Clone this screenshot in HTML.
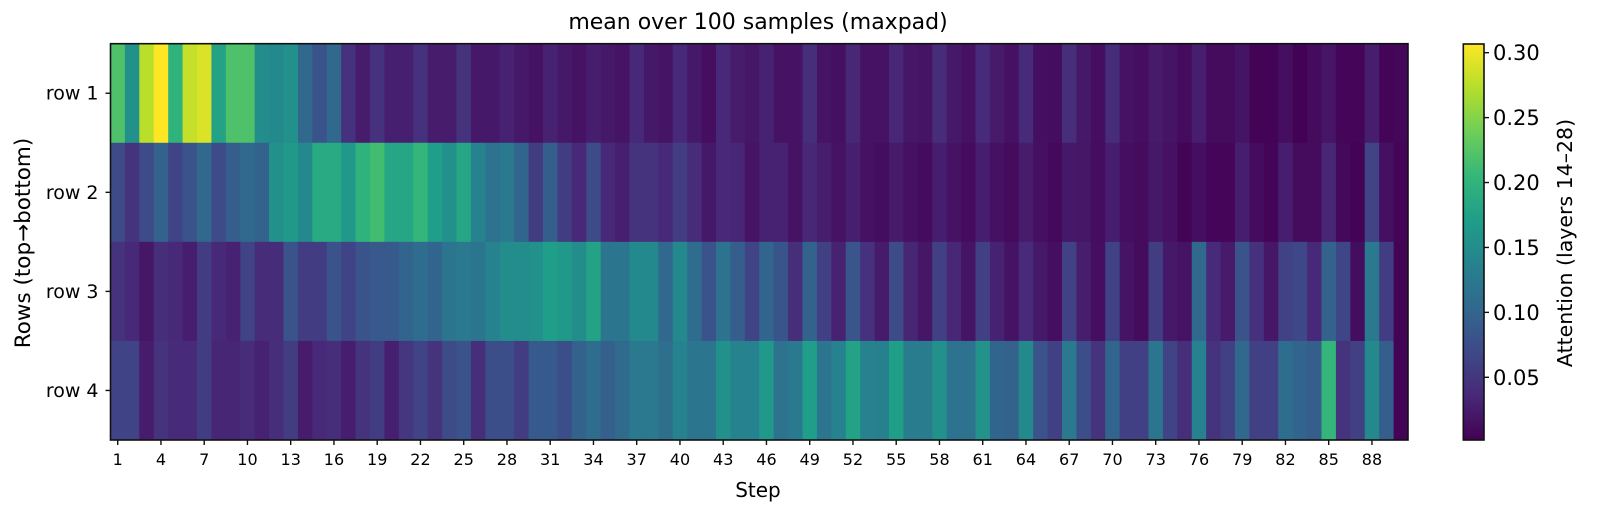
<!DOCTYPE html>
<html><head><meta charset="utf-8"><style>
html,body{margin:0;padding:0;background:#fff;}
svg text{font-family:"DejaVu Sans","Liberation Sans",sans-serif;fill:#000;}
</style></head><body>
<svg id="chart" width="1600" height="512" viewBox="0 0 1600 512" xmlns="http://www.w3.org/2000/svg">
<defs>
<linearGradient id="vir" x1="0" y1="1" x2="0" y2="0">
<stop offset="0" stop-color="#440154"/><stop offset="0.111" stop-color="#482878"/><stop offset="0.222" stop-color="#3e4989"/><stop offset="0.333" stop-color="#31688e"/><stop offset="0.444" stop-color="#26828e"/><stop offset="0.556" stop-color="#1f9e89"/><stop offset="0.667" stop-color="#35b779"/><stop offset="0.778" stop-color="#6ece58"/><stop offset="0.889" stop-color="#b5de2b"/><stop offset="1" stop-color="#fde725"/>
</linearGradient>
</defs>
<g id="cells"></g>
<rect x="110.5" y="43.7" width="1297.5" height="396.3" fill="none" stroke="#111" stroke-width="1.6"/>
<g id="xticks"></g>
<g id="yticks"></g>
<text x="758" y="29" font-size="22" text-anchor="middle">mean over 100 samples (maxpad)</text>
<text x="758" y="497" font-size="20" text-anchor="middle">Step</text>
<text transform="translate(30,243) rotate(-90)" font-size="21.5" text-anchor="middle">Rows (top→bottom)</text>
<rect x="1463.3" y="44" width="20.7" height="396" fill="url(#vir)" stroke="#111" stroke-width="1.6"/>
<g id="cticks"></g>
<text transform="translate(1572,243) rotate(-90)" font-size="20.5" text-anchor="middle">Attention (layers 14–28)</text>
</svg>
<script>
const rowLabels = ["row 1","row 2","row 3","row 4"];
const xTickSteps = [1,4,7,10,13,16,19,22,25,28,31,34,37,40,43,46,49,52,55,58,61,64,67,70,73,76,79,82,85,88];
const cbTicks = [0.05,0.10,0.15,0.20,0.25,0.30];
const row1 = [0.22,0.155,0.275,0.307,0.198,0.28,0.29,0.177,0.22,0.22,0.15,0.146,0.155,0.104,0.08,0.104,0.045,0.025,0.045,0.028,0.028,0.045,0.025,0.025,0.047,0.022,0.022,0.03,0.022,0.017,0.03,0.022,0.017,0.027,0.022,0.018,0.037,0.022,0.018,0.037,0.022,0.013,0.037,0.025,0.02,0.03,0.017,0.017,0.042,0.018,0.015,0.035,0.017,0.017,0.035,0.02,0.018,0.04,0.022,0.016,0.039,0.023,0.016,0.039,0.014,0.012,0.042,0.022,0.013,0.04,0.017,0.013,0.023,0.018,0.01,0.027,0.01,0.01,0.018,0.004,0.004,0.013,0.003,0.01,0.019,0.006,0.006,0.026,0.005,0.007];
const row2 = [0.072,0.047,0.072,0.097,0.063,0.08,0.104,0.072,0.092,0.104,0.097,0.155,0.165,0.146,0.187,0.187,0.165,0.198,0.213,0.182,0.182,0.203,0.171,0.155,0.182,0.137,0.116,0.125,0.1,0.057,0.092,0.057,0.037,0.072,0.037,0.028,0.047,0.047,0.037,0.057,0.04,0.022,0.037,0.034,0.018,0.03,0.03,0.017,0.035,0.026,0.017,0.028,0.016,0.012,0.023,0.016,0.011,0.027,0.017,0.011,0.027,0.016,0.01,0.025,0.015,0.009,0.022,0.02,0.012,0.027,0.013,0.01,0.022,0.016,0.004,0.013,0.006,0.006,0.027,0.01,0.005,0.027,0.01,0.01,0.034,0.009,0.004,0.063,0.015,0.005];
const row3 = [0.047,0.037,0.02,0.042,0.037,0.027,0.057,0.037,0.03,0.063,0.04,0.04,0.08,0.057,0.057,0.08,0.063,0.08,0.087,0.087,0.1,0.11,0.1,0.12,0.125,0.12,0.137,0.15,0.15,0.155,0.171,0.165,0.15,0.177,0.12,0.12,0.146,0.146,0.104,0.146,0.11,0.08,0.116,0.092,0.063,0.1,0.082,0.042,0.097,0.06,0.03,0.083,0.045,0.024,0.072,0.034,0.02,0.06,0.035,0.018,0.06,0.03,0.017,0.039,0.022,0.013,0.062,0.026,0.013,0.062,0.018,0.011,0.057,0.022,0.017,0.104,0.039,0.023,0.08,0.045,0.02,0.062,0.068,0.037,0.097,0.066,0.012,0.125,0.057,0.004];
const row4 = [0.063,0.063,0.025,0.047,0.038,0.038,0.057,0.034,0.034,0.04,0.03,0.042,0.057,0.025,0.036,0.042,0.027,0.047,0.057,0.028,0.05,0.063,0.047,0.072,0.08,0.042,0.075,0.075,0.057,0.088,0.088,0.075,0.097,0.11,0.093,0.107,0.125,0.125,0.112,0.137,0.12,0.12,0.155,0.139,0.137,0.165,0.116,0.125,0.171,0.12,0.137,0.177,0.137,0.135,0.173,0.13,0.13,0.155,0.116,0.116,0.157,0.1,0.097,0.146,0.08,0.06,0.125,0.075,0.047,0.1,0.06,0.06,0.122,0.063,0.042,0.137,0.047,0.06,0.104,0.06,0.06,0.11,0.1,0.092,0.203,0.047,0.06,0.146,0.092,0.004];

const NS="http://www.w3.org/2000/svg";
const rows=[row1,row2,row3,row4];
const X0=110.5,X1=1408,Y0=43.7,Y1=440;
const nCols=row1.length, nRows=rows.length;
const cw=(X1-X0)/nCols, rh=(Y1-Y0)/nRows;
const VMIN=0.0017,VMAX=0.3067;
const CB_Y0=44,CB_Y1=440,CB_X=1484;
const stops=["#440154","#482878","#3e4989","#31688e","#26828e","#1f9e89","#35b779","#6ece58","#b5de2b","#fde725"];
function hx(h){return [1,3,5].map(i=>parseInt(h.substr(i,2),16));}
function viridis(v){let t=(v-VMIN)/(VMAX-VMIN);t=Math.max(0,Math.min(1,t));const p=t*(stops.length-1);const i=Math.min(stops.length-2,Math.floor(p));const f=p-i;const a=hx(stops[i]),b=hx(stops[i+1]);return "rgb("+a.map((c,k)=>Math.round(c+(b[k]-c)*f)).join(",")+")";}
function xScale(step){return X0+(step-0.5)*cw;}
function yScale(r){return Y0+(r+0.5)*rh;}
function cbScale(v){return CB_Y1-(v-VMIN)/(VMAX-VMIN)*(CB_Y1-CB_Y0);}
function mk(tag,attrs){const e=document.createElementNS(NS,tag);for(const k in attrs)e.setAttribute(k,attrs[k]);return e;}
const gc=document.getElementById("cells");
rows.forEach((row,r)=>{row.forEach((v,c)=>{
  const e=mk("rect",{x:(X0+c*cw).toFixed(2),y:(Y0+r*rh).toFixed(2),width:(cw+0.4).toFixed(2),height:(rh+0.4).toFixed(2),fill:viridis(v)});
  
  
  gc.appendChild(e);});});
const gx=document.getElementById("xticks");
xTickSteps.forEach(s=>{const x=xScale(s);
  const l=mk("line",{x1:x,x2:x,y1:Y1,y2:Y1+5,stroke:"#111","stroke-width":1.4});
  
  
  gx.appendChild(l);
  const t=mk("text",{x:x,y:Y1+25,"font-size":16,"text-anchor":"middle"});t.textContent=s;
  
  
  gx.appendChild(t);});
const gy=document.getElementById("yticks");
rowLabels.forEach((lab,r)=>{const y=yScale(r);
  const l=mk("line",{x1:X0-5,x2:X0,y1:y,y2:y,stroke:"#111","stroke-width":1.4});
  
  
  gy.appendChild(l);
  const t=mk("text",{x:X0-12,y:y+6.5,"font-size":19,"text-anchor":"end"});t.textContent=lab;
  
  
  gy.appendChild(t);});
const gcb=document.getElementById("cticks");
cbTicks.forEach(v=>{const y=cbScale(v);
  const l=mk("line",{x1:CB_X,x2:CB_X+5,y1:y,y2:y,stroke:"#111","stroke-width":1.4});
  
  
  gcb.appendChild(l);
  const t=mk("text",{x:CB_X+9,y:y+7.5,"font-size":21});t.textContent=v.toFixed(2);
  
  
  gcb.appendChild(t);});
</script>
</body></html>
